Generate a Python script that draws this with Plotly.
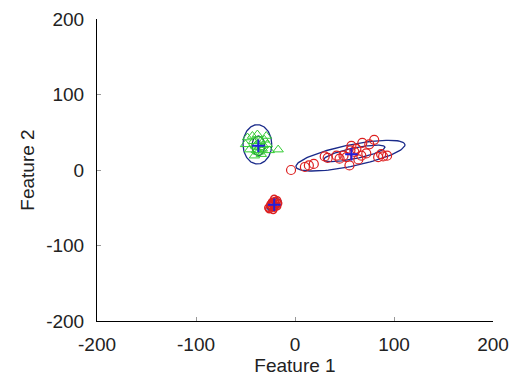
import numpy as np
import plotly.graph_objects as go

# Cluster A (red circles) - elongated cluster
red_x = [-4, 10, 14, 19, 30, 33, 42, 45, 49, 52, 55, 57, 60, 62, 67, 68, 72, 75, 80, 84, 87, 89, 93, 56, 64]
red_y = [0, 4, 6, 8, 18, 16, 19, 15, 19, 17, 6, 32, 24, 28, 19, 36, 22, 34, 40, 17, 21, 18, 19, 26, 14]
# Cluster B (red circles) - compact cluster
redb_x = [-26, -24, -22, -20, -18, -25, -21, -19, -23, -17, -27, -22, -20, -24, -18, -21]
redb_y = [-52, -48, -44, -41, -40, -46, -50, -45, -42, -44, -50, -53, -47, -44, -48, -38]
# Cluster C (green triangles)
green_x = [-48, -43, -38, -29, -28, -26, -34, -41, -46, -50, -17, -36, -38, -33, -40, -35, -32, -39, -37, -31, -42]
green_y = [43, 45, 47, 45, 34, 26, 21, 19, 27, 34, 27, 30, 35, 28, 32, 38, 33, 26, 24, 40, 38]
# Cluster centres (blue +)
cent_x = [-37, 57, -21]
cent_y = [32, 21, -46]
# Ellipses: centre x, centre y, semi-axis a, semi-axis b, angle (deg), colour
ell_cx = [-38, -37, 56, 60, -21]
ell_cy = [34, 32, 19, 22, -46]
ell_a = [14.5, 6.5, 57, 32, 9]
ell_b = [26, 13, 14, 7, 6]
ell_ang = [0, 0, 15.5, 15.5, 50]
ell_col = ["#1a2a8a", "#1a4a5a", "#1a2a8a", "#1a2a8a", "#1a2a8a"]
# Tick values / labels
tick_vals = [-200, -100, 0, 100, 200]
tick_text = ["-200", "-100", "0", "100", "200"]

fig = go.Figure()

t = np.linspace(0, 2 * np.pi, 120)
for cx, cy, a, b, ang, col in zip(ell_cx, ell_cy, ell_a, ell_b, ell_ang, ell_col):
    th = np.deg2rad(ang)
    ex = cx + a * np.cos(t) * np.cos(th) - b * np.sin(t) * np.sin(th)
    ey = cy + a * np.cos(t) * np.sin(th) + b * np.sin(t) * np.cos(th)
    fig.add_trace(go.Scatter(x=ex, y=ey, mode="lines",
                             line=dict(color=col, width=1.3), hoverinfo="skip"))

fig.add_trace(go.Scatter(x=green_x, y=green_y, mode="markers",
                         marker=dict(symbol="triangle-up-open", size=9, color="#33cc33",
                                     line=dict(width=1))))
fig.add_trace(go.Scatter(x=red_x, y=red_y, mode="markers",
                         marker=dict(symbol="circle-open", size=9, color="#dd2020",
                                     line=dict(width=1.2))))
fig.add_trace(go.Scatter(x=redb_x, y=redb_y, mode="markers",
                         marker=dict(symbol="circle-open", size=7, color="#dd2020",
                                     line=dict(width=1.5))))
fig.add_trace(go.Scatter(x=cent_x, y=cent_y, mode="markers",
                         marker=dict(symbol="cross-thin-open", size=9, color="#2020dd",
                                     line=dict(width=2, color="#2020dd"))))

axis_common = dict(range=[-200, 200], tickvals=tick_vals, ticktext=tick_text,
                   automargin=False, ticklabeloverflow="allow",
                   showgrid=False, zeroline=False, showline=True, linecolor="black",
                   linewidth=1, ticks="inside", ticklen=4, tickcolor="#999999",
                   tickfont=dict(family="Liberation Sans, Arial", size=19, color="#222222"),
                   title_font=dict(family="Liberation Sans, Arial", size=19, color="#222222"))

fig.update_layout(
    width=513, height=372,
    margin=dict(l=89, r=28, t=11, b=59),
    paper_bgcolor="white", plot_bgcolor="white",
    showlegend=False,
    xaxis=dict(**axis_common, title=dict(text="Feature 1", standoff=0), ticklabelstandoff=6),
    yaxis=dict(**axis_common, title=dict(text="Feature 2", standoff=6), ticklabelstandoff=8),
)

fig.write_html("out.html")
